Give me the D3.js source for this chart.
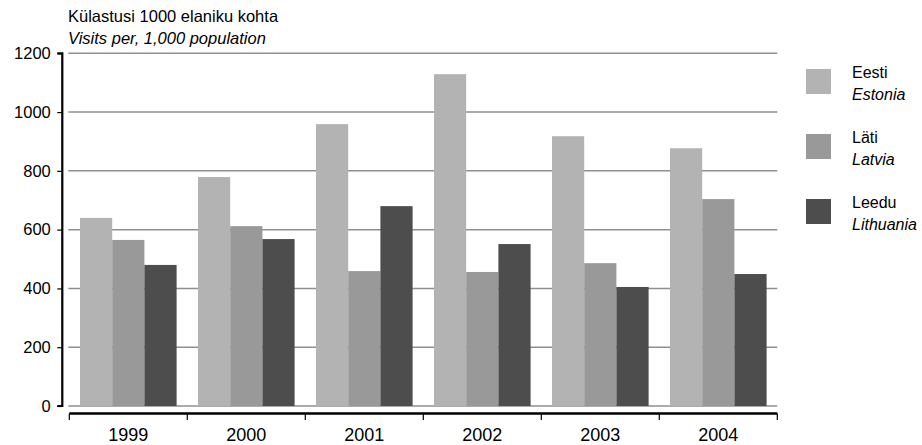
<!DOCTYPE html>
<html><head><meta charset="utf-8">
<script src="https://cdn.jsdelivr.net/npm/d3@7"></script>
<style>body{margin:0;background:#fff}svg{display:block;font-family:"Liberation Sans",Arial,sans-serif}</style>
</head><body><svg id="c" width="922" height="445"></svg>
<script>
const years = ["1999","2000","2001","2002","2003","2004"];
const estonia = [640, 779, 959, 1129, 918, 877];
const latvia = [565, 612, 459, 456, 486, 704];
const lithuania = [480, 568, 680, 551, 405, 449];
const seriesNames = [["Eesti","Estonia"],["Läti","Latvia"],["Leedu","Lithuania"]];
const seriesColors = ["#b3b3b3","#999999","#4d4d4d"];
const yTicks = [0,200,400,600,800,1000,1200];
const titleEt = "Külastusi 1000 elaniku kohta";
const titleEn = "Visits per, 1,000 population";

const FF = "Liberation Sans, Arial, sans-serif";
const series = [estonia, latvia, lithuania];
const svg = d3.select("#c");
const x0 = d3.scaleBand().domain(years).range([69.3, 777.3]).padding(0);
const x1 = d3.scaleBand().domain([0,1,2]).range([10.7, x0.bandwidth()-10.7]).padding(0);
const y = d3.scaleLinear().domain([0,1200]).range([406, 53.3]);

// gridlines
svg.append("g").selectAll("line").data(yTicks).join("line")
  .attr("x1", 68.3).attr("x2", 777.3)
  .attr("y1", d=>y(d)).attr("y2", d=>y(d))
  .attr("stroke", "#8f8f8f").attr("stroke-width", 1.5);

// bars
const g = svg.append("g").selectAll("g").data(years).join("g")
  .attr("transform", d=>`translate(${x0(d)},0)`);
g.selectAll("rect").data((d,i)=>series.map((s,k)=>({k, v:s[i]}))).join("rect")
  .attr("x", d=>x1(d.k)).attr("width", x1.bandwidth())
  .attr("y", d=>y(d.v)).attr("height", d=>y(0)-y(d.v))
  .attr("fill", d=>seriesColors[d.k]);

// y axis
const ya = svg.append("g").attr("transform","translate(62.3,0)")
  .call(d3.axisLeft(y).tickValues(yTicks).tickSize(5).tickPadding(6.5).tickFormat(d3.format("d")));
ya.select(".domain").attr("stroke","#000").attr("stroke-width",2.2).attr("d", `M-5,${y(1200)}H0V${y(0)}H-5`);
ya.selectAll(".tick line").attr("stroke","#000").attr("stroke-width",1.2);
ya.selectAll("text").attr("font-size",16.5).attr("fill","#000").attr("font-family",FF);

// x axis
const xa = svg.append("g").attr("transform","translate(0,413.5)")
  .call(d3.axisBottom(x0).tickSize(0).tickPadding(15));
xa.select(".domain").attr("stroke","#000").attr("stroke-width",2.5).attr("d","M69.3,0H777.3");
const bounds = years.map(d=>x0(d)).concat([x0(years[years.length-1])+x0.bandwidth()]);
svg.append("g").selectAll("line").data(bounds).join("line")
  .attr("x1", d=>d).attr("x2", d=>d).attr("y1", 413.5).attr("y2", 420)
  .attr("stroke","#000").attr("stroke-width",1.2);
xa.selectAll("text").attr("font-size",18).attr("fill","#000").attr("font-family",FF);

// titles
svg.append("text").attr("x",68).attr("y",22).attr("font-size",16.5).attr("font-family",FF).text(titleEt);
svg.append("text").attr("x",68).attr("y",44).attr("font-size",16.5).attr("font-family",FF).attr("font-style","italic").text(titleEn);

// legend
const lg = svg.append("g").selectAll("g").data(seriesNames).join("g")
  .attr("transform",(d,i)=>`translate(806,${69+i*65})`);
lg.append("rect").attr("width",25).attr("height",25).attr("fill",(d,i)=>seriesColors[i]);
lg.append("text").attr("x",46).attr("y",9).attr("font-size",16).attr("font-family",FF).text(d=>d[0]);
lg.append("text").attr("x",46).attr("y",31).attr("font-size",16).attr("font-family",FF).attr("font-style","italic").text(d=>d[1]);
</script></body></html>
